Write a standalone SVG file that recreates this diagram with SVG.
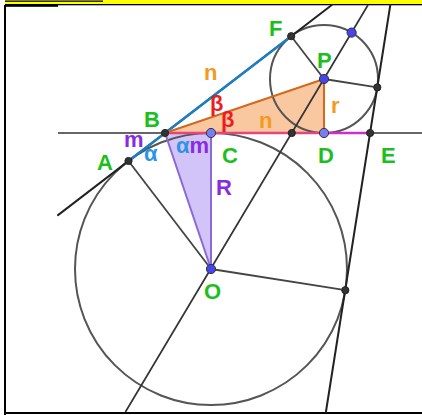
<svg xmlns="http://www.w3.org/2000/svg" width="422" height="415" viewBox="0 0 422 415">
<style>
.lbl{font-family:"Liberation Sans",Arial,sans-serif;font-weight:bold;font-size:22px}
.g{fill:#1dbf1d}.o{fill:#f39a1c}.rd{fill:#ee1c1c}.bl{fill:#2a95e6}.pu{fill:#8a2be2}
.ln{stroke:#222;stroke-width:2;fill:none;stroke-linecap:round}
.gy{stroke:#555;stroke-width:2;fill:none}
.dk{fill:#333;stroke:#222;stroke-width:1}
.lb{fill:#7b7bf2;stroke:#333;stroke-width:1}
.bp{fill:#4545ee;stroke:#333;stroke-width:1}
</style>
<rect x="0" y="0" width="422" height="415" fill="#fff"/>
<g id="frame">
<rect x="5" y="0" width="417" height="5" fill="#ffff00"/>
<rect x="5" y="0.5" width="98" height="1.3" fill="#000"/>
<rect x="5" y="4" width="417" height="1.3" fill="#000"/>
<rect x="5" y="5" width="53" height="1.8" fill="#000"/>
<rect x="4" y="5" width="2" height="410" fill="#000"/>
<rect x="4" y="412" width="418" height="2" fill="#000"/>
</g>
<g id="fills">
<polygon points="165,133 211,133 211,269" fill="#d2c4f8" stroke="none"/>
<polygon points="165,133 324,133 324,79" fill="#f9c7a0" stroke="none"/>
</g>
<g id="circles">
<circle cx="211" cy="269" r="136" class="gy"/>
<circle cx="324" cy="79" r="54" class="gy"/>
</g>
<g id="connectors">
<line x1="58" y1="133" x2="422" y2="133" stroke="#666" stroke-width="2"/>
<line x1="58" y1="215.1" x2="331.8" y2="5" class="ln"/>
<line x1="125.4" y1="412" x2="368" y2="5" stroke="#333" stroke-width="1.7"/>
<line x1="325.9" y1="412" x2="390.3" y2="5" class="ln"/>
<line x1="211" y1="269" x2="128.5" y2="161" stroke="#444" stroke-width="1.8"/>
<line x1="211" y1="269" x2="345.3" y2="290.2" stroke="#444" stroke-width="1.8"/>
<line x1="324" y1="79" x2="291.2" y2="36.2" stroke="#444" stroke-width="1.8"/>
<line x1="324" y1="79" x2="377.3" y2="87.4" stroke="#444" stroke-width="1.8"/>
<line x1="128.5" y1="161" x2="291.2" y2="36.2" stroke="#1b7fc4" stroke-width="2.4"/>
<line x1="165" y1="133" x2="324" y2="133" stroke="#e5457a" stroke-width="2.4"/>
<line x1="324" y1="133" x2="370.1" y2="133" stroke="#cc2fcc" stroke-width="2.4"/>
<line x1="165" y1="133" x2="211" y2="269" stroke="#8a6ad8" stroke-width="2"/>
<line x1="211" y1="133" x2="211" y2="269" stroke="#8a6ad8" stroke-width="2"/>
<line x1="165" y1="133" x2="324" y2="79" stroke="#d2691e" stroke-width="2"/>
<line x1="324" y1="79" x2="324" y2="133" stroke="#d2691e" stroke-width="2"/>
</g>
<g id="node-A"><circle cx="128.5" cy="161" r="3.6" class="dk"/><text x="97" y="170" class="lbl g">A</text></g>
<g id="node-B"><circle cx="165" cy="133" r="3.6" class="dk"/><text x="144" y="127" class="lbl g">B</text></g>
<g id="node-C"><circle cx="211" cy="133" r="4.6" class="lb"/><text x="222" y="163" class="lbl g">C</text></g>
<g id="node-D"><circle cx="324" cy="133" r="4.6" class="lb"/><text x="318" y="163" class="lbl g">D</text></g>
<g id="node-E"><circle cx="370.1" cy="133" r="3.6" class="dk"/><text x="381" y="163" class="lbl g">E</text></g>
<g id="node-F"><circle cx="291.2" cy="36.2" r="3.6" class="dk"/><text x="269" y="36" class="lbl g">F</text></g>
<g id="node-P"><circle cx="324" cy="79" r="4.6" class="bp"/><text x="317" y="68" class="lbl g">P</text></g>
<g id="node-O"><circle cx="211" cy="269" r="4.6" class="bp"/><text x="204" y="299" class="lbl g">O</text></g>
<g id="node-G"><circle cx="351.6" cy="32.6" r="4.6" class="bp"/></g>
<g id="node-H"><circle cx="291.8" cy="133" r="3.6" class="dk"/></g>
<g id="node-T1"><circle cx="345.3" cy="290.2" r="3.6" class="dk"/></g>
<g id="node-T2"><circle cx="377.3" cy="87.4" r="3.6" class="dk"/></g>
<g id="labels">
<text x="204" y="80" class="lbl o">n</text>
<text x="259" y="128" class="lbl o">n</text>
<text x="331" y="113" class="lbl o">r</text>
<text x="210" y="111" class="lbl rd">β</text>
<text x="221" y="127" class="lbl rd">β</text>
<text x="144" y="161" class="lbl bl">α</text>
<text x="176" y="153" class="lbl"><tspan class="bl">α</tspan><tspan class="pu">m</tspan></text>
<text x="124" y="147" class="lbl pu">m</text>
<text x="216" y="195" class="lbl pu">R</text>
</g>
</svg>
